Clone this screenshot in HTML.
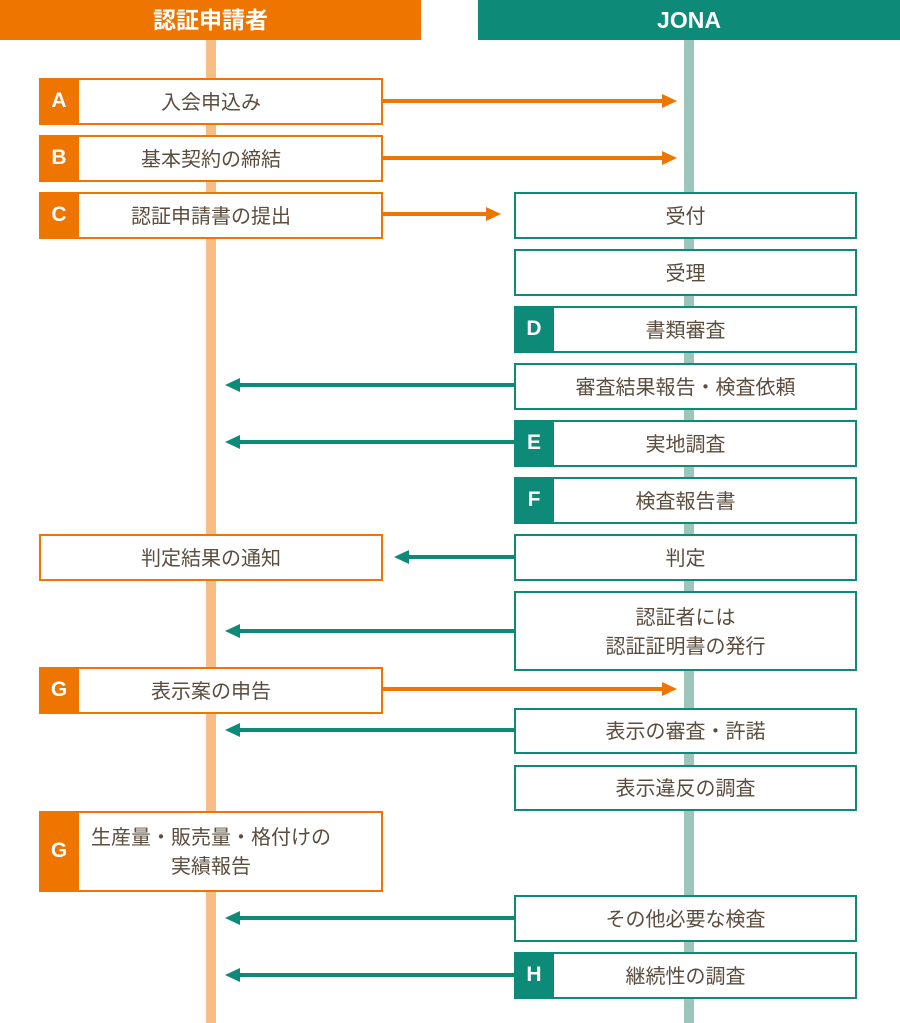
<!DOCTYPE html><html><head><meta charset="utf-8"><style>
body{margin:0;width:900px;height:1023px;position:relative;background:#fff;font-family:"Liberation Sans","Noto Sans CJK JP",sans-serif;overflow:hidden}
.a{position:absolute}
.hd{position:absolute;top:0;height:40px;color:#fff;font-size:23px;font-weight:bold;text-align:center;line-height:40px}
.bx{position:absolute;box-sizing:border-box;background:#fff;border:2px solid;color:#5b4c3e;font-size:20px;display:flex;align-items:center;justify-content:center;text-align:center;line-height:1.45;padding-top:3px}
.o{border-color:#ee7500;left:39px;width:344px}
.t{border-color:#0e8a78;left:514px;width:343px}
.bg{position:absolute;left:-2px;top:-2px;bottom:-2px;width:40px;color:#fff;font-size:21px;font-weight:bold;display:flex;align-items:center;justify-content:center}
.o .bg{background:#ee7500}.t .bg{background:#0e8a78}
</style></head><body>
<div class="hd" style="left:0;width:421px;background:#ee7500">認証申請者</div>
<div class="hd" style="left:478px;width:422px;background:#0e8a78">JONA</div>
<div class="a" style="left:206px;top:40px;width:10px;height:983px;background:#f7bd86"></div>
<div class="a" style="left:684px;top:40px;width:10px;height:983px;background:#9cc6bb"></div>
<svg class="a" style="left:0;top:0" width="900" height="1023">
<g stroke="#ee7500" stroke-width="4" fill="#ee7500">
<line x1="382" y1="101" x2="664" y2="101"/><polygon points="662,94 677,101 662,108" stroke="none"/>
<line x1="382" y1="158" x2="664" y2="158"/><polygon points="662,151 677,158 662,165" stroke="none"/>
<line x1="382" y1="214" x2="488" y2="214"/><polygon points="486,207 501,214 486,221" stroke="none"/>
<line x1="382" y1="689" x2="664" y2="689"/><polygon points="662,682 677,689 662,696" stroke="none"/>
</g>
<g stroke="#0e8a78" stroke-width="4" fill="#0e8a78">
<line x1="514" y1="385" x2="238" y2="385"/><polygon points="240,378 225,385 240,392" stroke="none"/>
<line x1="514" y1="442" x2="238" y2="442"/><polygon points="240,435 225,442 240,449" stroke="none"/>
<line x1="514" y1="557" x2="407" y2="557"/><polygon points="409,550 394,557 409,564" stroke="none"/>
<line x1="514" y1="631" x2="238" y2="631"/><polygon points="240,624 225,631 240,638" stroke="none"/>
<line x1="514" y1="730" x2="238" y2="730"/><polygon points="240,723 225,730 240,737" stroke="none"/>
<line x1="514" y1="918" x2="238" y2="918"/><polygon points="240,911 225,918 240,925" stroke="none"/>
<line x1="514" y1="975" x2="238" y2="975"/><polygon points="240,968 225,975 240,982" stroke="none"/>
</g></svg>
<div class="bx o" style="top:78px;height:47px"><div class="bg">A</div>入会申込み</div>
<div class="bx o" style="top:135px;height:47px"><div class="bg">B</div>基本契約の締結</div>
<div class="bx o" style="top:192px;height:47px"><div class="bg">C</div>認証申請書の提出</div>
<div class="bx t" style="top:192px;height:47px">受付</div>
<div class="bx t" style="top:249px;height:47px">受理</div>
<div class="bx t" style="top:306px;height:47px"><div class="bg">D</div>書類審査</div>
<div class="bx t" style="top:363px;height:47px">審査結果報告・検査依頼</div>
<div class="bx t" style="top:420px;height:47px"><div class="bg">E</div>実地調査</div>
<div class="bx t" style="top:477px;height:47px"><div class="bg">F</div>検査報告書</div>
<div class="bx o" style="top:534px;height:47px">判定結果の通知</div>
<div class="bx t" style="top:534px;height:47px">判定</div>
<div class="bx t" style="top:591px;height:80px">認証者には<br>認証証明書の発行</div>
<div class="bx o" style="top:667px;height:47px"><div class="bg">G</div>表示案の申告</div>
<div class="bx t" style="top:708px;height:46px">表示の審査・許諾</div>
<div class="bx t" style="top:765px;height:46px">表示違反の調査</div>
<div class="bx o" style="top:811px;height:81px"><div class="bg">G</div>生産量・販売量・格付けの<br>実績報告</div>
<div class="bx t" style="top:895px;height:47px">その他必要な検査</div>
<div class="bx t" style="top:952px;height:47px"><div class="bg">H</div>継続性の調査</div>
</body></html>
